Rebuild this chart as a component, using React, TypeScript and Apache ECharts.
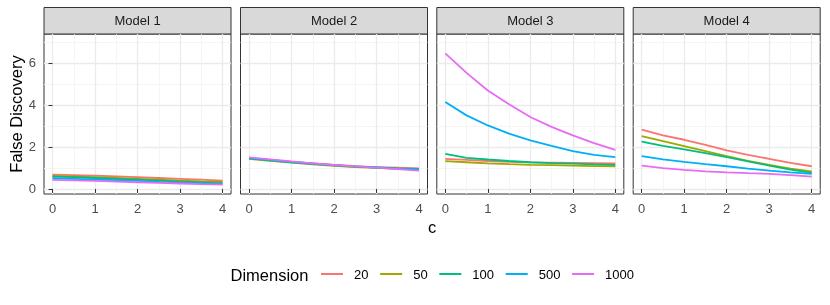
import React, { useEffect, useRef } from "react";
import * as echarts from "echarts";

const models = ["Model 1", "Model 2", "Model 3", "Model 4"];
const dimensions = ["20", "50", "100", "500", "1000"];
const colors = ["#F8766D", "#A3A500", "#00BF7D", "#00B0F6", "#E76BF3"];
const cValues = [0, 0.5, 1, 1.5, 2, 2.5, 3, 3.5, 4];
const xMajorTicks = [0, 1, 2, 3, 4];
const xMinorTicks = [0.5, 1.5, 2.5, 3.5];
const yMajorTicks = [0, 2, 4, 6];
const yMinorTicks = [1, 3, 5, 7];

// values per model, per dimension (20, 50, 100, 500, 1000), at each c
const model1 = [
  [0.68, 0.66, 0.63, 0.6, 0.56, 0.52, 0.48, 0.44, 0.4],
  [0.62, 0.59, 0.56, 0.52, 0.48, 0.44, 0.4, 0.36, 0.33],
  [0.59, 0.56, 0.52, 0.48, 0.44, 0.4, 0.35, 0.31, 0.27],
  [0.51, 0.48, 0.45, 0.42, 0.38, 0.34, 0.31, 0.27, 0.24],
  [0.43, 0.41, 0.38, 0.35, 0.32, 0.29, 0.26, 0.23, 0.21],
];
const model2 = [
  [1.46, 1.37, 1.29, 1.21, 1.14, 1.09, 1.04, 1.01, 0.98],
  [1.43, 1.34, 1.25, 1.17, 1.1, 1.04, 1.0, 0.96, 0.93],
  [1.45, 1.36, 1.27, 1.19, 1.12, 1.06, 1.02, 0.98, 0.95],
  [1.47, 1.38, 1.29, 1.21, 1.13, 1.07, 1.02, 0.97, 0.93],
  [1.5, 1.41, 1.31, 1.22, 1.14, 1.07, 1.01, 0.94, 0.87],
];
const model3 = [
  [1.43, 1.38, 1.33, 1.29, 1.26, 1.25, 1.24, 1.23, 1.22],
  [1.32, 1.27, 1.22, 1.18, 1.15, 1.13, 1.11, 1.09, 1.08],
  [1.67, 1.48, 1.4, 1.33, 1.27, 1.23, 1.2, 1.17, 1.15],
  [4.14, 3.5, 3.02, 2.63, 2.31, 2.05, 1.8, 1.62, 1.51],
  [6.45, 5.52, 4.68, 4.03, 3.42, 2.95, 2.55, 2.18, 1.86],
];
const model4 = [
  [2.82, 2.55, 2.34, 2.1, 1.83, 1.62, 1.43, 1.24, 1.08],
  [2.51, 2.27, 2.04, 1.8, 1.56, 1.34, 1.15, 0.97, 0.84],
  [2.25, 2.05, 1.88, 1.7, 1.51, 1.31, 1.11, 0.92, 0.76],
  [1.56, 1.41, 1.29, 1.18, 1.08, 0.97, 0.87, 0.79, 0.72],
  [1.11, 0.99, 0.91, 0.84, 0.79, 0.75, 0.72, 0.66, 0.59],
];
const allModels = [model1, model2, model3, model4];

const FONT = "Liberation Sans, Arial, Helvetica, sans-serif";
const X_MIN = -0.2;
const X_MAX = 4.2;
const Y_MIN = -0.24;
const Y_MAX = 7.37;

export default function App() {
  const ref = useRef<HTMLDivElement>(null);

  useEffect(() => {
    if (!ref.current) return;
    const chart = echarts.init(ref.current, null, { renderer: "svg" });

    const panelLeft = [44, 240.5, 436.8, 633.2];
    const panelWidth = 187;
    const panelTop = 34;
    const panelHeight = 160;
    const stripTop = 7.5;

    const grids: any[] = [];
    const xAxes: any[] = [];
    const yAxes: any[] = [];
    const series: any[] = [];
    const graphics: any[] = [];

    models.forEach((m, i) => {
      grids.push({
        left: panelLeft[i],
        top: panelTop,
        width: panelWidth,
        height: panelHeight,
        show: true,
        backgroundColor: "#FFFFFF",
        borderColor: "#333333",
        borderWidth: 1,
        outerBoundsMode: "none",
      });
      xAxes.push({
        type: "value",
        gridIndex: i,
        min: X_MIN,
        max: X_MAX,
        position: "bottom",
        axisLine: { show: false },
        axisTick: {
          show: true,
          customValues: xMajorTicks,
          length: 4,
          lineStyle: { color: "#333333", width: 1 },
        },
        axisLabel: {
          show: true,
          customValues: xMajorTicks,
          margin: 8,
          color: "#4D4D4D",
          fontSize: 13,
          fontFamily: FONT,
        },
        splitLine: { show: true, lineStyle: { color: "#EBEBEB", width: 1.3 } },
      });
      xAxes.push({
        type: "value",
        gridIndex: i,
        min: X_MIN,
        max: X_MAX,
        position: "top",
        axisLine: { show: false },
        axisTick: { show: false, customValues: xMinorTicks },
        axisLabel: { show: false, customValues: xMinorTicks },
        splitLine: { show: true, lineStyle: { color: "#F2F2F2", width: 0.8 } },
      });
      yAxes.push({
        type: "value",
        gridIndex: i,
        min: Y_MIN,
        max: Y_MAX,
        position: "left",
        name: i === 0 ? "False Discovery" : "",
        nameLocation: "middle",
        nameGap: 20,
        nameTextStyle: { fontSize: 16.5, color: "#000000", fontFamily: FONT },
        axisLine: { show: false },
        axisTick: {
          show: i === 0,
          customValues: yMajorTicks,
          length: 4,
          lineStyle: { color: "#333333", width: 1 },
        },
        axisLabel: {
          show: i === 0,
          customValues: yMajorTicks,
          margin: 8,
          color: "#4D4D4D",
          fontSize: 13,
          fontFamily: FONT,
        },
        splitLine: { show: true, lineStyle: { color: "#EBEBEB", width: 1.3 } },
      });
      yAxes.push({
        type: "value",
        gridIndex: i,
        min: Y_MIN,
        max: Y_MAX,
        position: "right",
        axisLine: { show: false },
        axisTick: { show: false, customValues: yMinorTicks },
        axisLabel: { show: false, customValues: yMinorTicks },
        splitLine: { show: true, lineStyle: { color: "#F2F2F2", width: 0.8 } },
      });

      allModels[i].forEach((vals, d) => {
        series.push({
          type: "line",
          name: dimensions[d],
          xAxisIndex: 2 * i,
          yAxisIndex: 2 * i,
          data: cValues.map((c, k) => [c, vals[k]]),
          symbol: "none",
          showSymbol: false,
          lineStyle: { color: colors[d], width: 1.8 },
          itemStyle: { color: colors[d] },
          emphasis: { disabled: true },
          silent: true,
        });
      });

      graphics.push({
        type: "rect",
        shape: { x: panelLeft[i], y: stripTop, width: panelWidth, height: panelTop - stripTop },
        style: { fill: "#D9D9D9", stroke: "#333333", lineWidth: 1 },
      });
      graphics.push({
        type: "text",
        x: panelLeft[i] + panelWidth / 2,
        y: (stripTop + panelTop) / 2,
        style: {
          text: m,
          fill: "#1A1A1A",
          fontSize: 13,
          fontFamily: FONT,
          align: "center",
          verticalAlign: "middle",
        },
      });
    });

    graphics.push({
      type: "text",
      x: 432,
      y: 227,
      style: {
        text: "c",
        fill: "#000000",
        fontSize: 16.5,
        fontFamily: FONT,
        align: "center",
        verticalAlign: "middle",
      },
    });
    graphics.push({
      type: "text",
      x: 230.5,
      y: 275,
      style: {
        text: "Dimension",
        fill: "#000000",
        fontSize: 16.5,
        fontFamily: FONT,
        align: "left",
        verticalAlign: "middle",
      },
    });

    chart.setOption({
      animation: false,
      grid: grids,
      xAxis: xAxes,
      yAxis: yAxes,
      series,
      legend: {
        data: dimensions,
        left: 321,
        top: 267.5,
        orient: "horizontal",
        icon: "rect",
        itemWidth: 22,
        itemHeight: 2,
        itemGap: 11.7,
        padding: 0,
        selectedMode: false,
        itemStyle: { borderWidth: 0 },
        textStyle: {
          fontSize: 13,
          color: "#000000",
          fontFamily: FONT,
          padding: [0, 0, 0, 6],
        },
      },
      graphic: graphics,
    });

    return () => chart.dispose();
  }, []);

  return (
    <div
      ref={ref}
      style={{ position: "fixed", left: 0, top: 0, width: 830, height: 305 }}
    />
  );
}
